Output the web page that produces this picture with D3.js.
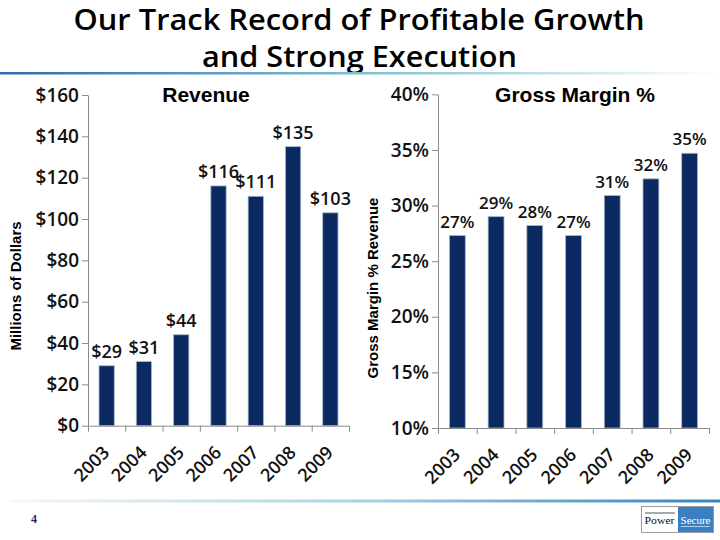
<!DOCTYPE html>
<html><head><meta charset="utf-8">
<script src="https://cdn.jsdelivr.net/npm/d3@7"></script>
<style>body{margin:0;background:#fff}svg{display:block}</style>
</head><body>
<script>
const titleLines = ["Our Track Record of Profitable Growth", "and Strong Execution"];
const years = ["2003","2004","2005","2006","2007","2008","2009"];
const revenue = [29, 31, 44, 116, 111, 135, 103];
const revenueLabels = ["$29","$31","$44","$116","$111","$135","$103"];
const revenueTicks = [0, 20, 40, 60, 80, 100, 120, 140, 160];
const grossMargin = [27.3, 29.0, 28.2, 27.3, 30.9, 32.4, 34.7];
const marginLabels = ["27%","29%","28%","27%","31%","32%","35%"];
const marginTicks = [10, 15, 20, 25, 30, 35, 40];

const W = 720, H = 540;
const svg = d3.select("body").append("svg").attr("width", W).attr("height", H);
const defs = svg.append("defs");
const FONT = "'Open Sans', 'DejaVu Sans', sans-serif";
const ARIAL = "'Liberation Sans', Arial, sans-serif";
const BAR = "#0c2a62";
const AXIS = "#8a8a8a";

// title
const tt = svg.append("text").attr("text-anchor", "middle")
  .attr("font-family", FONT).attr("font-weight", 600).attr("font-size", 28).attr("fill", "#000");
tt.append("tspan").attr("x", 359).attr("y", 30)
  .attr("textLength", 571).attr("lengthAdjust", "spacingAndGlyphs").text(titleLines[0]);
tt.append("tspan").attr("x", 359.5).attr("y", 67)
  .attr("textLength", 315).attr("lengthAdjust", "spacingAndGlyphs").text(titleLines[1]);

// gradient rules
const g1 = defs.append("linearGradient").attr("id", "gTop");
g1.append("stop").attr("offset", "0%").attr("stop-color", "#2c6cae");
g1.append("stop").attr("offset", "50%").attr("stop-color", "#7cc0d0");
g1.append("stop").attr("offset", "100%").attr("stop-color", "#ffffff");
svg.append("rect").attr("x", 0).attr("y", 72).attr("width", 720).attr("height", 2.5).attr("fill", "url(#gTop)");
const g2 = defs.append("linearGradient").attr("id", "gBot");
g2.append("stop").attr("offset", "0%").attr("stop-color", "#f4f8fa");
g2.append("stop").attr("offset", "50%").attr("stop-color", "#a9d2de");
g2.append("stop").attr("offset", "100%").attr("stop-color", "#3683bf");
svg.append("rect").attr("x", 10).attr("y", 499.5).attr("width", 710).attr("height", 3).attr("fill", "url(#gBot)");

function chart(cfg) {
  const g = svg.append("g");
  const y = d3.scaleLinear().domain([cfg.ticks[0], cfg.ticks[cfg.ticks.length - 1]]).range([cfg.y0, cfg.y1]);
  const x = d3.scaleBand().domain(years).range([cfg.x0, cfg.x1]).padding(0);
  const xi = d3.scaleLinear().domain([0, years.length]).range([cfg.x0, cfg.x1]);
  const bw = x.bandwidth() * 0.41;

  g.selectAll("rect.bar").data(cfg.values).join("rect").attr("class", "bar")
    .attr("x", (d, i) => x(years[i]) + (x.bandwidth() - bw) / 2)
    .attr("y", d => y(d))
    .attr("width", bw)
    .attr("height", d => y(cfg.ticks[0]) - y(d))
    .attr("fill", BAR).attr("stroke", "#aab6cb").attr("stroke-width", 0.8);

  g.selectAll("text.val").data(cfg.values).join("text").attr("class", "val")
    .attr("x", (d, i) => x(years[i]) + x.bandwidth() / 2)
    .attr("y", d => y(d) - 8)
    .attr("text-anchor", "middle").attr("font-family", FONT).attr("font-weight", 600)
    .attr("font-size", cfg.valSize).attr("fill", "#111")
    .text((d, i) => cfg.labels[i]);

  const ya = g.append("g").attr("transform", `translate(${cfg.x0},0)`)
    .call(d3.axisLeft(y).tickValues(cfg.ticks).tickSize(6).tickSizeOuter(0).tickPadding(3).tickFormat(cfg.fmt));
  ya.select(".domain").attr("stroke", AXIS);
  ya.selectAll(".tick line").attr("stroke", AXIS);
  ya.selectAll(".tick text").attr("font-family", FONT).attr("font-weight", 600)
    .attr("font-size", 19).attr("fill", "#111");

  const xa = g.append("g").attr("transform", `translate(0,${cfg.y0})`)
    .call(d3.axisBottom(xi).tickValues(d3.range(years.length + 1)).tickSize(6).tickSizeOuter(0).tickFormat(""));
  xa.select(".domain").attr("stroke", AXIS);
  xa.selectAll(".tick line").attr("stroke", AXIS);

  g.selectAll("text.yr").data(years).join("text").attr("class", "yr")
    .attr("text-anchor", "end")
    .attr("transform", d => `translate(${x(d) + x.bandwidth() / 2 + 4},${cfg.y0 + 28}) rotate(-45)`)
    .attr("font-family", FONT).attr("font-weight", 600).attr("font-size", 18).attr("fill", "#111")
    .text(d => d);

  g.append("text").attr("x", cfg.titleX).attr("y", 102).attr("text-anchor", "middle")
    .attr("font-family", ARIAL).attr("font-weight", "bold").attr("font-size", 21).attr("fill", "#000")
    .text(cfg.title);

  g.append("text").attr("transform", `translate(${cfg.ylx},${cfg.yly}) rotate(-90)`)
    .attr("text-anchor", "middle").attr("font-family", ARIAL).attr("font-weight", "bold")
    .attr("font-size", 15).attr("fill", "#000").text(cfg.ylabel);
}

chart({x0: 88, x1: 349, y0: 425.7, y1: 95, ticks: revenueTicks, fmt: d => "$" + d,
  values: revenue, labels: revenueLabels, valSize: 18, title: "Revenue", titleX: 206,
  ylabel: "Millions of Dollars", ylx: 21, yly: 286});
chart({x0: 438, x1: 709, y0: 428, y1: 94.3, ticks: marginTicks, fmt: d => d + "%",
  values: grossMargin, labels: marginLabels, valSize: 17, title: "Gross Margin %", titleX: 575,
  ylabel: "Gross Margin % Revenue", ylx: 378, yly: 288});

// footer page number
svg.append("text").attr("x", 34).attr("y", 523).attr("text-anchor", "middle")
  .attr("font-family", "'Liberation Serif', serif").attr("font-weight", "bold").attr("font-size", 12)
  .attr("fill", "#1f2d5a").text("4");

// logo
const lg = svg.append("g");
lg.append("rect").attr("x", 641.5).attr("y", 506.5).attr("width", 72).attr("height", 26)
  .attr("fill", "#fff").attr("stroke", "#9a9a9a").attr("stroke-width", 1);
lg.append("rect").attr("x", 678).attr("y", 507).attr("width", 35).attr("height", 25).attr("fill", "#3a7fbf");
lg.append("line").attr("x1", 645).attr("x2", 675).attr("y1", 513).attr("y2", 513).attr("stroke", "#555").attr("stroke-width", 1);
lg.append("text").attr("x", 659.5).attr("y", 524).attr("text-anchor", "middle")
  .attr("font-family", "'Liberation Serif', serif").attr("font-size", 11).attr("fill", "#111")
  .attr("textLength", 30).attr("lengthAdjust", "spacingAndGlyphs").text("Power");
lg.append("text").attr("x", 695.5).attr("y", 524).attr("text-anchor", "middle")
  .attr("font-family", "'Liberation Serif', serif").attr("font-size", 11).attr("fill", "#fff")
  .attr("textLength", 30).attr("lengthAdjust", "spacingAndGlyphs").text("Secure");
lg.append("line").attr("x1", 681).attr("x2", 710).attr("y1", 526.5).attr("y2", 526.5).attr("stroke", "#cfe3f2").attr("stroke-width", 0.8);
</script>
</body></html>
